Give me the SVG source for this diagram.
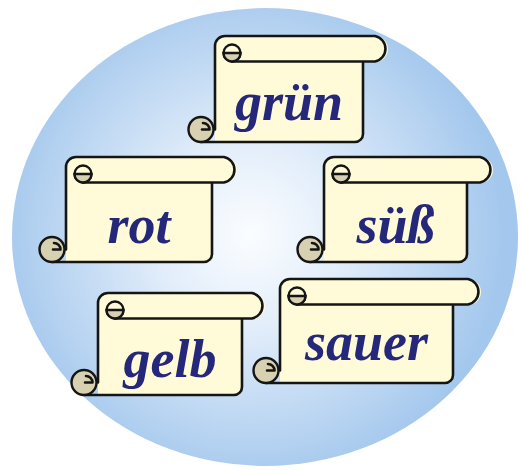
<svg xmlns="http://www.w3.org/2000/svg" width="521" height="470" viewBox="0 0 521 470">
<defs>
<radialGradient id="bg" gradientUnits="userSpaceOnUse" cx="250" cy="235" r="255">
<stop offset="0" stop-color="#fbfdff"/>
<stop offset="0.35" stop-color="#e3eefa"/>
<stop offset="1" stop-color="#a3c7ed"/>
</radialGradient>
</defs>
<style>
.paper{fill:#fffbd9;stroke:none}
.ln{fill:none;stroke:#151515;stroke-width:2.6;stroke-linejoin:round;stroke-linecap:round}
.cream{fill:#fffbd9;stroke:#151515;stroke-width:2.4}
.beige{fill:#d7d1b2;stroke:#151515;stroke-width:2.4}
.lbl{font-family:"Liberation Serif","DejaVu Serif",serif;font-weight:bold;font-style:italic;font-size:54px;fill:#25287a;text-anchor:middle}
</style>
<rect width="521" height="470" fill="#ffffff"/>
<ellipse cx="265" cy="237" rx="253" ry="229" fill="url(#bg)"/>
<g id="connectors"/>
<g id="gruen" transform="translate(215,36)">
<path class="paper" d="M -14,106 H 140 A 8 8 0 0 0 148,98 V 26 H 160 A 13 13 0 0 0 160,0 H 10 A 10 10 0 0 0 0,10 V 93.5 L 0,106 Z"/>
<path class="ln" d="M -14,106 H 140 A 8 8 0 0 0 148,98 V 26 M 17,25.5 H 160 A 13 13 0 0 0 160,0 H 10 A 10 10 0 0 0 0,10 V 93.5"/>
<circle class="cream" cx="17" cy="17" r="8.5"/>
<path class="beige" d="M 8.5,17 A 8.5 8.5 0 0 0 25.5,17 Z"/>
<circle class="beige" cx="-14" cy="93.5" r="12.5"/>
<path class="ln" d="M -12,87 A 6.5 6.5 0 0 1 -5.5,93.5 H -13"/>
<text class="lbl" x="74" y="84">grün</text>
</g>
<g id="rot" transform="translate(66,157)">
<path class="paper" d="M -14,105 H 138 A 8 8 0 0 0 146,97 V 26 H 158 A 13 13 0 0 0 158,0 H 10 A 10 10 0 0 0 0,10 V 92.5 L 0,105 Z"/>
<path class="ln" d="M -14,105 H 138 A 8 8 0 0 0 146,97 V 26 M 17,25.5 H 158 A 13 13 0 0 0 158,0 H 10 A 10 10 0 0 0 0,10 V 92.5"/>
<circle class="cream" cx="17" cy="17" r="8.5"/>
<path class="beige" d="M 8.5,17 A 8.5 8.5 0 0 0 25.5,17 Z"/>
<circle class="beige" cx="-14" cy="92.5" r="12.5"/>
<path class="ln" d="M -12,86 A 6.5 6.5 0 0 1 -5.5,92.5 H -13"/>
<text class="lbl" x="73" y="86">rot</text>
</g>
<g id="suess" transform="translate(324,157)">
<path class="paper" d="M -14,105 H 135 A 8 8 0 0 0 143,97 V 26 H 156 A 13 13 0 0 0 156,0 H 10 A 10 10 0 0 0 0,10 V 92.5 L 0,105 Z"/>
<path class="ln" d="M -14,105 H 135 A 8 8 0 0 0 143,97 V 26 M 17,25.5 H 156 A 13 13 0 0 0 156,0 H 10 A 10 10 0 0 0 0,10 V 92.5"/>
<circle class="cream" cx="17" cy="17" r="8.5"/>
<path class="beige" d="M 8.5,17 A 8.5 8.5 0 0 0 25.5,17 Z"/>
<circle class="beige" cx="-14" cy="92.5" r="12.5"/>
<path class="ln" d="M -12,86 A 6.5 6.5 0 0 1 -5.5,92.5 H -13"/>
<text class="lbl" x="71.5" y="86">süß</text>
</g>
<g id="gelb" transform="translate(98,293)">
<path class="paper" d="M -14,102 H 136 A 8 8 0 0 0 144,94 V 26 H 154 A 13 13 0 0 0 154,0 H 10 A 10 10 0 0 0 0,10 V 89.5 L 0,102 Z"/>
<path class="ln" d="M -14,102 H 136 A 8 8 0 0 0 144,94 V 26 M 17,25.5 H 154 A 13 13 0 0 0 154,0 H 10 A 10 10 0 0 0 0,10 V 89.5"/>
<circle class="cream" cx="17" cy="17" r="8.5"/>
<path class="beige" d="M 8.5,17 A 8.5 8.5 0 0 0 25.5,17 Z"/>
<circle class="beige" cx="-14" cy="89.5" r="12.5"/>
<path class="ln" d="M -12,83 A 6.5 6.5 0 0 1 -5.5,89.5 H -13"/>
<text class="lbl" x="72" y="84">gelb</text>
</g>
<g id="sauer" transform="translate(280,279)">
<path class="paper" d="M -14,104 H 165 A 8 8 0 0 0 173,96 V 26 H 188 A 13 13 0 0 0 188,0 H 10 A 10 10 0 0 0 0,10 V 91.5 L 0,104 Z"/>
<path class="ln" d="M -14,104 H 165 A 8 8 0 0 0 173,96 V 26 M 17,25.5 H 188 A 13 13 0 0 0 188,0 H 10 A 10 10 0 0 0 0,10 V 91.5"/>
<circle class="cream" cx="17" cy="17" r="8.5"/>
<path class="beige" d="M 8.5,17 A 8.5 8.5 0 0 0 25.5,17 Z"/>
<circle class="beige" cx="-14" cy="91.5" r="12.5"/>
<path class="ln" d="M -12,85 A 6.5 6.5 0 0 1 -5.5,91.5 H -13"/>
<text class="lbl" x="86.5" y="81">sauer</text>
</g>
</svg>
